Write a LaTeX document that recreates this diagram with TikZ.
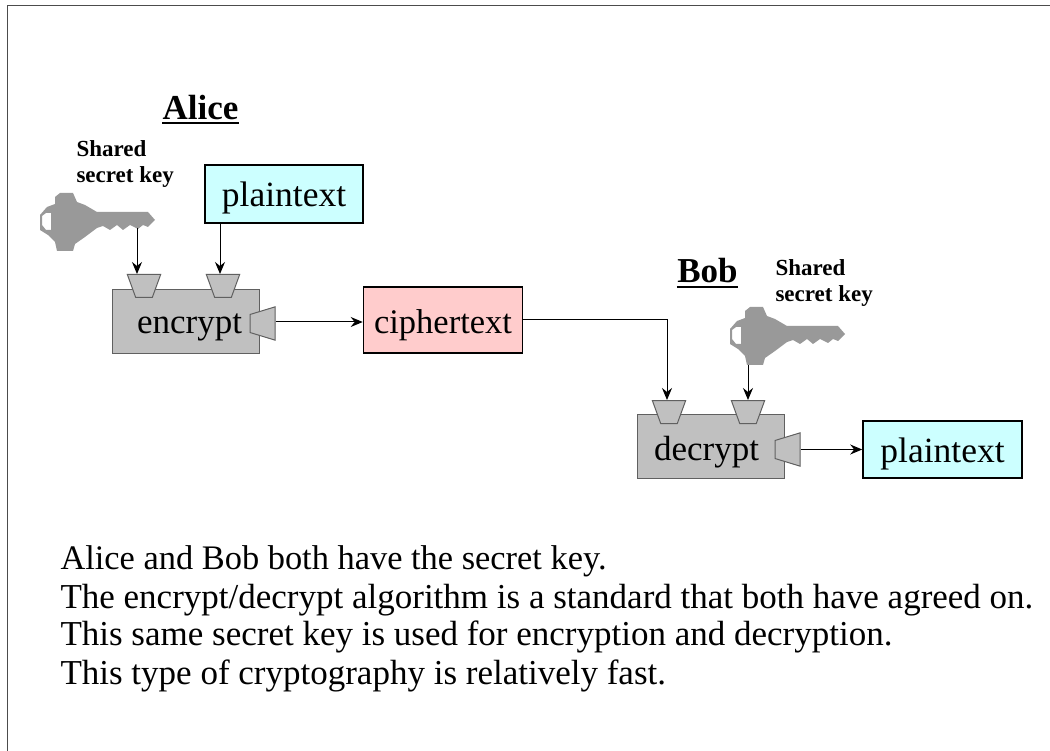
\documentclass[tikz,border=0pt]{standalone}
\usepackage{fontspec}
\setmainfont{Liberation Serif}
\usepackage{xcolor}
\usetikzlibrary{arrows.meta,shapes.geometric,positioning}
\definecolor{plainfill}{HTML}{CCFFFF}
\definecolor{cipherfill}{HTML}{FFCCCC}
\definecolor{boxfill}{HTML}{C0C0C0}
\definecolor{boxline}{HTML}{606060}
\definecolor{keyfill}{HTML}{999999}

\begin{document}
\begin{tikzpicture}[x=1pt,y=-1pt,>={Stealth[length=12pt,width=10pt,inset=4pt]},line width=1pt]
	\tikzstyle{textbox} = [draw=black,line width=1.6pt,rectangle,inner sep=0pt,text height=26pt,text depth=0pt,font=\fontsize{35.5}{35.5}\selectfont]
	\tikzstyle{algo} = [draw=boxline,fill=boxfill,rectangle,inner sep=0pt,minimum width=147pt,minimum height=64pt]
	\tikzstyle{algolabel} = [inner sep=0pt,anchor=base,font=\fontsize{35}{35}\selectfont]
	\tikzstyle{portin} = [draw=boxline,fill=boxfill,trapezium,trapezium angle=70,shape border rotate=180,inner xsep=8.3pt,inner ysep=11.5pt]
	\tikzstyle{portout} = [draw=boxline,fill=boxfill,trapezium,trapezium angle=73,shape border rotate=90,inner xsep=12.5pt,inner ysep=9pt]
	\tikzstyle{owner} = [font=\fontsize{35}{35}\selectfont\bfseries,inner sep=0pt,anchor=base]
	\tikzstyle{keylabel} = [font=\fontsize{23}{26.5}\selectfont\bfseries,align=left,inner sep=0pt,anchor=north west]
	\tikzstyle{caption} = [font=\fontsize{35}{35}\selectfont,inner sep=0pt,anchor=base west]
	\tikzset{keyshape/.pic={
		\fill[keyfill,even odd rule] (15,4) -- (20,0) -- (33,0) -- (37,9) -- (45,12) -- (57,19) -- (108,19) -- (115,27) -- (108,34) -- (103,32) -- (98,36) -- (90,32) -- (83,37) -- (77,32) -- (70,37) -- (63,33) -- (57,35) -- (45,44) -- (35,51) -- (33,58) -- (17,58) -- (15,49) -- (8,42) -- (0,37) -- (0,22) -- (7,14) -- (15,11) -- cycle
			(2,23) -- (6,20) -- (11,20) -- (11,37) -- (6,37) -- (2,32) -- cycle;
		\coordinate (-blade) at (97,35);
		\coordinate (-head) at (18,58);
	}}
	\useasboundingbox (0,0) rectangle (1050,751);
	\draw[black!70,line width=1.5pt] (7.5,751) -- (7.5,5.5) -- (1050,5.5);

	% alice side
	\node[owner] (alice) at (200.5,119.5) {Alice};
	\draw[line width=2pt] ([yshift=-4pt]alice.base west) -- ([yshift=-4pt]alice.base east);
	\node[keylabel] (sharedA) at (76,140) {Shared\\secret key};
	\pic (keyA) at (40,193) {keyshape};
	\node[textbox,fill=plainfill,minimum width=158pt,minimum height=58pt] (plainA) at (284,194) {plaintext};
	\node[algo] (encrypt) at (185.5,321.5) {};
	\node[portin] (inA1) at (144,286) {};
	\node[portin] (inA2) at (223,286) {};
	\node[portout] (outA) at (262.5,323.5) {};
	\node[algolabel] (encryptlabel) at (189.5,334) {encrypt};
	\node[textbox,fill=cipherfill,text height=28pt,minimum width=159pt,minimum height=66pt,font=\fontsize{34.5}{34.5}\selectfont] (cipher) at (443,320) {ciphertext};

	% bob side
	\node[owner] (bob) at (707.5,283) {Bob};
	\draw[line width=2pt] ([yshift=-4.5pt]bob.base west) -- ([yshift=-4.5pt]bob.base east);
	\node[keylabel] (sharedB) at (775,259) {Shared\\secret key};
	\pic (keyB) at (730,307) {keyshape};
	\node[algo] (decrypt) at (710.5,446.5) {};
	\node[portin] (inB1) at (669,412) {};
	\node[portin] (inB2) at (748,412) {};
	\node[portout] (outB) at (787.5,449.5) {};
	\node[algolabel] (decryptlabel) at (706.5,460.5) {decrypt};
	\node[textbox,fill=plainfill,minimum width=159pt,minimum height=57pt] (plainB) at (942.5,449.5) {plaintext};

	\draw[->] (keyA-blade) -- (keyA-blade |- inA1.north);
	\draw[->] ([xshift=-64pt]plainA.south) -- ([xshift=-3pt]inA2.north);
	\draw[->] ([yshift=1.5pt]outA.east) -- ([yshift=1.5pt]outA.east -| cipher.west);
	\draw[->] (cipher.east) -| ([xshift=-2pt]inB1.north);
	\draw[->] (keyB-head) -- (keyB-head |- inB2.north);
	\draw[->] (outB.east) -- (outB.east -| plainB.west);

	\node[caption,font=\fontsize{34.4}{35}\selectfont] (line1) at (60,569.5) {Alice and Bob both have the secret key.};
	\node[caption] (line2) at (60,608) {The encrypt/decrypt algorithm is a standard that both have agreed on.};
	\node[caption] (line3) at (60,645) {This same secret key is used for encryption and decryption.};
	\node[caption] (line4) at (60,684) {This type of cryptography is relatively fast.};
\end{tikzpicture}
\end{document}
